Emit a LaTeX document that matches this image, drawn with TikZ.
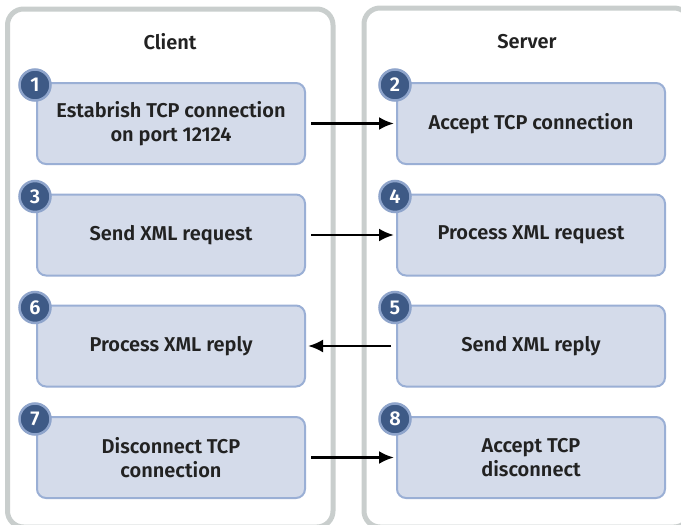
\documentclass[tikz,border=0pt]{standalone}
\usepackage{fontspec}
\setmainfont{Fira Sans}[BoldFont={Fira Sans SemiBold}]
\usetikzlibrary{arrows.meta}
\begin{document}
\begin{tikzpicture}[x=1pt,y=-1pt,
  panel/.style={draw=panelgray, line width=5pt, rounded corners=16pt, fill=white},
  stepbox/.style={draw=boxedge, fill=boxfill, line width=2pt, rounded corners=9pt,
    minimum width=268pt, minimum height=81pt, align=center, font=\bfseries\fontsize{20}{24}\selectfont, text=textdark, inner sep=0pt},
  badge/.style={circle, fill=badgefill, draw=badgeedge, line width=2.5pt, minimum size=31pt, inner sep=0pt,
    text=white, font=\bfseries\fontsize{20}{20}\selectfont},
  title/.style={font=\bfseries\fontsize{20}{22}\selectfont, text=textdark},
  flow/.style={line width=2.6pt, -{Latex[length=15pt,width=13pt]}}
]
\definecolor{panelgray}{HTML}{C9CECD}
\definecolor{boxedge}{HTML}{9AAFD5}
\definecolor{boxfill}{HTML}{D4DBEA}
\definecolor{badgefill}{HTML}{3E5A86}
\definecolor{badgeedge}{HTML}{8EA4CB}
\definecolor{textdark}{HTML}{222222}
\useasboundingbox (0,0) rectangle (681,525);
\clip (0,0) rectangle (681,525);
\draw[panel] (7.5,9) rectangle (333,527);
\draw[panel] (364,8) rectangle (690,527);
\node[title] (tc) at (170,42) {Client};
\node[title] (ts) at (527,42) {Server};
% left column
\node[stepbox] (s1) at (171,123.5) {Estabrish TCP connection\\on port 12124};
\node[stepbox] (s3) at (171,235) {Send XML request};
\node[stepbox] (s6) at (171,346) {Process XML reply};
\node[stepbox] (s7) at (171,457.5) {Disconnect TCP\\connection};
% right column
\node[stepbox] (s2) at (531,123.5) {Accept TCP connection};
\node[stepbox] (s4) at (531,235) {Process XML request};
\node[stepbox] (s5) at (531,346) {Send XML reply};
\node[stepbox] (s8) at (531,457.5) {Accept TCP\\disconnect};
% badges
\foreach \s/\n in {s1/1,s3/3,s6/6,s7/7,s2/2,s4/4,s5/5,s8/8}{
  \node[badge] (b\n) at ([xshift=-1pt,yshift=-3pt]\s.north west) {\n};
}
\draw[flow] ([xshift=5pt]s1.east) -- ([xshift=-2pt]s2.west);
\draw[flow] ([xshift=5pt]s3.east) -- ([xshift=-2pt]s4.west);
\draw[flow] ([xshift=-5pt]s5.west) -- ([xshift=2pt]s6.east);
\draw[flow] ([xshift=5pt]s7.east) -- ([xshift=-2pt]s8.west);
\end{tikzpicture}
\end{document}
